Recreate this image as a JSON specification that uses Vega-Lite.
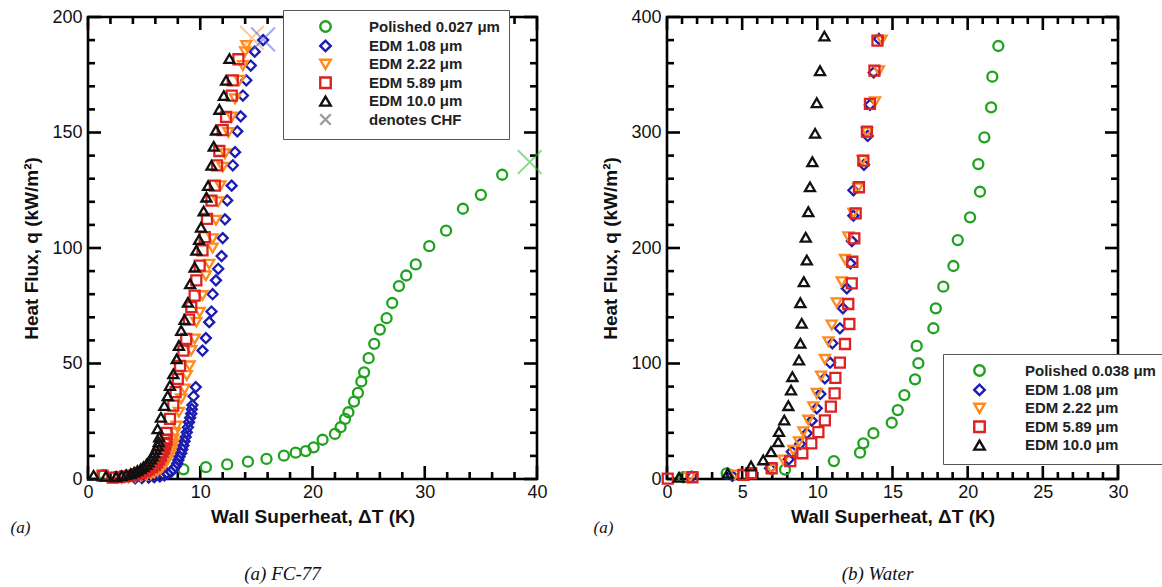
{
  "$schema": "https://vega.github.io/schema/vega-lite/v6.json",
  "padding": {"left": 8, "top": 6, "right": 0, "bottom": 0},
  "background": "white",
  "spacing": 42,
  "config": {
    "view": {"stroke": "#000", "strokeWidth": 2.6},
    "axis": {
      "grid": false,
      "domain": false,
      "ticks": false,
      "tickSize": 0,
      "labelFont": "Liberation Sans, sans-serif",
      "labelFontSize": 18,
      "labelColor": "#111",
      "labelFlush": false,
      "labelOverlap": false,
      "titleFont": "Liberation Sans, sans-serif",
      "titleFontSize": 19,
      "titleFontWeight": "bold",
      "titleColor": "#111"
    },
    "legend": {
      "labelFont": "Liberation Sans, sans-serif",
      "labelFontSize": 15,
      "labelFontWeight": "bold",
      "labelColor": "#222",
      "symbolStrokeWidth": 2.4,
      "symbolSize": 110,
      "fillColor": "white",
      "strokeColor": "#555",
      "padding": 9,
      "rowPadding": -1.6
    }
  },
  "resolve": {
    "scale": {"color": "independent", "shape": "independent", "stroke": "independent", "x": "independent", "y": "independent"},
    "legend": {"color": "independent", "shape": "independent"}
  },
  "hconcat": [
    {
      "width": 449,
      "height": 462,
      "title": {"text": "(a) FC-77", "orient": "bottom", "anchor": "middle", "dx": -30, "offset": 30, "font": "Liberation Serif", "fontStyle": "italic", "fontWeight": "normal", "fontSize": 19, "color": "#111"},
      "data": {"values": [
        {"k": "pt", "s": "Polished 0.027 μm", "x": 1.4, "y": 1.8},
        {"k": "pt", "s": "Polished 0.027 μm", "x": 8.5, "y": 4.2},
        {"k": "pt", "s": "Polished 0.027 μm", "x": 10.5, "y": 5.1},
        {"k": "pt", "s": "Polished 0.027 μm", "x": 12.4, "y": 6.3},
        {"k": "pt", "s": "Polished 0.027 μm", "x": 14.25, "y": 7.5},
        {"k": "pt", "s": "Polished 0.027 μm", "x": 15.9, "y": 8.7},
        {"k": "pt", "s": "Polished 0.027 μm", "x": 17.45, "y": 10.1},
        {"k": "pt", "s": "Polished 0.027 μm", "x": 18.5, "y": 11.4},
        {"k": "pt", "s": "Polished 0.027 μm", "x": 19.4, "y": 12.1},
        {"k": "pt", "s": "Polished 0.027 μm", "x": 20.1, "y": 13.7},
        {"k": "pt", "s": "Polished 0.027 μm", "x": 20.9, "y": 17.0},
        {"k": "pt", "s": "Polished 0.027 μm", "x": 22.0, "y": 19.5},
        {"k": "pt", "s": "Polished 0.027 μm", "x": 22.5, "y": 22.4},
        {"k": "pt", "s": "Polished 0.027 μm", "x": 22.9, "y": 26.0},
        {"k": "pt", "s": "Polished 0.027 μm", "x": 23.2, "y": 28.9},
        {"k": "pt", "s": "Polished 0.027 μm", "x": 23.7, "y": 33.5},
        {"k": "pt", "s": "Polished 0.027 μm", "x": 24.05, "y": 37.3},
        {"k": "pt", "s": "Polished 0.027 μm", "x": 24.35, "y": 42.2},
        {"k": "pt", "s": "Polished 0.027 μm", "x": 24.6, "y": 46.2},
        {"k": "pt", "s": "Polished 0.027 μm", "x": 25.0, "y": 52.3},
        {"k": "pt", "s": "Polished 0.027 μm", "x": 25.5, "y": 58.5},
        {"k": "pt", "s": "Polished 0.027 μm", "x": 26.0, "y": 64.7},
        {"k": "pt", "s": "Polished 0.027 μm", "x": 26.6, "y": 69.6},
        {"k": "pt", "s": "Polished 0.027 μm", "x": 27.1, "y": 76.2},
        {"k": "pt", "s": "Polished 0.027 μm", "x": 27.7, "y": 83.5},
        {"k": "pt", "s": "Polished 0.027 μm", "x": 28.35, "y": 88.1},
        {"k": "pt", "s": "Polished 0.027 μm", "x": 29.2, "y": 92.9},
        {"k": "pt", "s": "Polished 0.027 μm", "x": 30.4, "y": 100.8},
        {"k": "pt", "s": "Polished 0.027 μm", "x": 31.9, "y": 107.5},
        {"k": "pt", "s": "Polished 0.027 μm", "x": 33.4, "y": 117.0},
        {"k": "pt", "s": "Polished 0.027 μm", "x": 35.0, "y": 123.0},
        {"k": "pt", "s": "Polished 0.027 μm", "x": 36.9, "y": 131.7},
        {"k": "pt", "s": "EDM 1.08 μm", "x": 4.2, "y": 0.3},
        {"k": "pt", "s": "EDM 1.08 μm", "x": 4.8, "y": 0.4},
        {"k": "pt", "s": "EDM 1.08 μm", "x": 5.4, "y": 0.6},
        {"k": "pt", "s": "EDM 1.08 μm", "x": 5.9, "y": 0.8},
        {"k": "pt", "s": "EDM 1.08 μm", "x": 6.4, "y": 1.1},
        {"k": "pt", "s": "EDM 1.08 μm", "x": 6.8, "y": 1.6},
        {"k": "pt", "s": "EDM 1.08 μm", "x": 7.1, "y": 2.3},
        {"k": "pt", "s": "EDM 1.08 μm", "x": 7.4, "y": 3.1},
        {"k": "pt", "s": "EDM 1.08 μm", "x": 7.6, "y": 4.2},
        {"k": "pt", "s": "EDM 1.08 μm", "x": 7.8, "y": 5.4},
        {"k": "pt", "s": "EDM 1.08 μm", "x": 7.95, "y": 6.8},
        {"k": "pt", "s": "EDM 1.08 μm", "x": 8.05, "y": 8.2},
        {"k": "pt", "s": "EDM 1.08 μm", "x": 8.15, "y": 9.6},
        {"k": "pt", "s": "EDM 1.08 μm", "x": 8.3, "y": 11.2},
        {"k": "pt", "s": "EDM 1.08 μm", "x": 8.4, "y": 12.8},
        {"k": "pt", "s": "EDM 1.08 μm", "x": 8.5, "y": 14.5},
        {"k": "pt", "s": "EDM 1.08 μm", "x": 8.6, "y": 16.3},
        {"k": "pt", "s": "EDM 1.08 μm", "x": 8.7, "y": 18.2},
        {"k": "pt", "s": "EDM 1.08 μm", "x": 8.8, "y": 20.2},
        {"k": "pt", "s": "EDM 1.08 μm", "x": 8.9, "y": 22.4},
        {"k": "pt", "s": "EDM 1.08 μm", "x": 9.0, "y": 24.6},
        {"k": "pt", "s": "EDM 1.08 μm", "x": 9.1, "y": 26.5},
        {"k": "pt", "s": "EDM 1.08 μm", "x": 9.2, "y": 28.3},
        {"k": "pt", "s": "EDM 1.08 μm", "x": 9.25, "y": 30.2},
        {"k": "pt", "s": "EDM 1.08 μm", "x": 9.3, "y": 32.0},
        {"k": "pt", "s": "EDM 1.08 μm", "x": 9.4, "y": 35.8},
        {"k": "pt", "s": "EDM 1.08 μm", "x": 9.6, "y": 39.8},
        {"k": "pt", "s": "EDM 1.08 μm", "x": 10.2, "y": 55.6},
        {"k": "pt", "s": "EDM 1.08 μm", "x": 10.5, "y": 61.0},
        {"k": "pt", "s": "EDM 1.08 μm", "x": 10.8, "y": 67.9},
        {"k": "pt", "s": "EDM 1.08 μm", "x": 11.0, "y": 72.5},
        {"k": "pt", "s": "EDM 1.08 μm", "x": 11.1, "y": 80.0},
        {"k": "pt", "s": "EDM 1.08 μm", "x": 11.4, "y": 86.0},
        {"k": "pt", "s": "EDM 1.08 μm", "x": 11.6, "y": 91.0},
        {"k": "pt", "s": "EDM 1.08 μm", "x": 11.9, "y": 96.5},
        {"k": "pt", "s": "EDM 1.08 μm", "x": 12.0, "y": 104.3},
        {"k": "pt", "s": "EDM 1.08 μm", "x": 12.2, "y": 112.4},
        {"k": "pt", "s": "EDM 1.08 μm", "x": 12.4, "y": 120.6},
        {"k": "pt", "s": "EDM 1.08 μm", "x": 12.8, "y": 127.0},
        {"k": "pt", "s": "EDM 1.08 μm", "x": 12.9, "y": 135.8},
        {"k": "pt", "s": "EDM 1.08 μm", "x": 13.1, "y": 141.5},
        {"k": "pt", "s": "EDM 1.08 μm", "x": 13.3, "y": 150.5},
        {"k": "pt", "s": "EDM 1.08 μm", "x": 13.6, "y": 157.0},
        {"k": "pt", "s": "EDM 1.08 μm", "x": 13.8, "y": 166.0},
        {"k": "pt", "s": "EDM 1.08 μm", "x": 14.1, "y": 172.6},
        {"k": "pt", "s": "EDM 1.08 μm", "x": 14.5, "y": 179.0},
        {"k": "pt", "s": "EDM 1.08 μm", "x": 14.85, "y": 185.0},
        {"k": "pt", "s": "EDM 1.08 μm", "x": 15.6, "y": 190.0},
        {"k": "pt", "s": "EDM 2.22 μm", "x": 3.0, "y": 0.3},
        {"k": "pt", "s": "EDM 2.22 μm", "x": 3.6, "y": 0.5},
        {"k": "pt", "s": "EDM 2.22 μm", "x": 4.2, "y": 0.8},
        {"k": "pt", "s": "EDM 2.22 μm", "x": 4.7, "y": 1.1},
        {"k": "pt", "s": "EDM 2.22 μm", "x": 5.2, "y": 1.5},
        {"k": "pt", "s": "EDM 2.22 μm", "x": 5.6, "y": 2.0},
        {"k": "pt", "s": "EDM 2.22 μm", "x": 5.9, "y": 2.7},
        {"k": "pt", "s": "EDM 2.22 μm", "x": 6.2, "y": 3.4},
        {"k": "pt", "s": "EDM 2.22 μm", "x": 6.45, "y": 4.3},
        {"k": "pt", "s": "EDM 2.22 μm", "x": 6.65, "y": 5.3},
        {"k": "pt", "s": "EDM 2.22 μm", "x": 6.85, "y": 6.4},
        {"k": "pt", "s": "EDM 2.22 μm", "x": 7.0, "y": 7.6},
        {"k": "pt", "s": "EDM 2.22 μm", "x": 7.15, "y": 8.9},
        {"k": "pt", "s": "EDM 2.22 μm", "x": 7.3, "y": 10.3},
        {"k": "pt", "s": "EDM 2.22 μm", "x": 7.4, "y": 11.8},
        {"k": "pt", "s": "EDM 2.22 μm", "x": 7.5, "y": 13.4},
        {"k": "pt", "s": "EDM 2.22 μm", "x": 7.6, "y": 15.3},
        {"k": "pt", "s": "EDM 2.22 μm", "x": 7.6, "y": 17.3},
        {"k": "pt", "s": "EDM 2.22 μm", "x": 7.75, "y": 20.0},
        {"k": "pt", "s": "EDM 2.22 μm", "x": 7.9, "y": 23.0},
        {"k": "pt", "s": "EDM 2.22 μm", "x": 8.1, "y": 28.9},
        {"k": "pt", "s": "EDM 2.22 μm", "x": 8.3, "y": 34.7},
        {"k": "pt", "s": "EDM 2.22 μm", "x": 8.6, "y": 39.0},
        {"k": "pt", "s": "EDM 2.22 μm", "x": 8.8, "y": 44.8},
        {"k": "pt", "s": "EDM 2.22 μm", "x": 9.05, "y": 49.0},
        {"k": "pt", "s": "EDM 2.22 μm", "x": 9.2, "y": 55.6},
        {"k": "pt", "s": "EDM 2.22 μm", "x": 9.5, "y": 60.6},
        {"k": "pt", "s": "EDM 2.22 μm", "x": 9.65, "y": 67.9},
        {"k": "pt", "s": "EDM 2.22 μm", "x": 9.95, "y": 72.2},
        {"k": "pt", "s": "EDM 2.22 μm", "x": 10.2, "y": 79.4},
        {"k": "pt", "s": "EDM 2.22 μm", "x": 10.5, "y": 88.0},
        {"k": "pt", "s": "EDM 2.22 μm", "x": 10.8, "y": 93.0},
        {"k": "pt", "s": "EDM 2.22 μm", "x": 11.1, "y": 100.0},
        {"k": "pt", "s": "EDM 2.22 μm", "x": 11.1, "y": 104.0},
        {"k": "pt", "s": "EDM 2.22 μm", "x": 11.4, "y": 112.0},
        {"k": "pt", "s": "EDM 2.22 μm", "x": 11.6, "y": 120.0},
        {"k": "pt", "s": "EDM 2.22 μm", "x": 11.8, "y": 127.0},
        {"k": "pt", "s": "EDM 2.22 μm", "x": 12.0, "y": 135.0},
        {"k": "pt", "s": "EDM 2.22 μm", "x": 12.2, "y": 140.8},
        {"k": "pt", "s": "EDM 2.22 μm", "x": 12.5, "y": 150.0},
        {"k": "pt", "s": "EDM 2.22 μm", "x": 12.8, "y": 156.7},
        {"k": "pt", "s": "EDM 2.22 μm", "x": 13.1, "y": 164.6},
        {"k": "pt", "s": "EDM 2.22 μm", "x": 13.5, "y": 172.6},
        {"k": "pt", "s": "EDM 2.22 μm", "x": 13.8, "y": 179.0},
        {"k": "pt", "s": "EDM 2.22 μm", "x": 14.0, "y": 185.0},
        {"k": "pt", "s": "EDM 2.22 μm", "x": 14.1, "y": 187.7},
        {"k": "pt", "s": "EDM 5.89 μm", "x": 1.3, "y": 1.4},
        {"k": "pt", "s": "EDM 5.89 μm", "x": 2.2, "y": 0.6},
        {"k": "pt", "s": "EDM 5.89 μm", "x": 2.8, "y": 0.8},
        {"k": "pt", "s": "EDM 5.89 μm", "x": 3.3, "y": 1.1},
        {"k": "pt", "s": "EDM 5.89 μm", "x": 3.8, "y": 1.5},
        {"k": "pt", "s": "EDM 5.89 μm", "x": 4.3, "y": 2.0},
        {"k": "pt", "s": "EDM 5.89 μm", "x": 4.7, "y": 2.6},
        {"k": "pt", "s": "EDM 5.89 μm", "x": 5.1, "y": 3.3},
        {"k": "pt", "s": "EDM 5.89 μm", "x": 5.4, "y": 4.1},
        {"k": "pt", "s": "EDM 5.89 μm", "x": 5.7, "y": 5.0},
        {"k": "pt", "s": "EDM 5.89 μm", "x": 5.95, "y": 6.0},
        {"k": "pt", "s": "EDM 5.89 μm", "x": 6.15, "y": 7.2},
        {"k": "pt", "s": "EDM 5.89 μm", "x": 6.35, "y": 8.5},
        {"k": "pt", "s": "EDM 5.89 μm", "x": 6.5, "y": 10.0},
        {"k": "pt", "s": "EDM 5.89 μm", "x": 6.65, "y": 11.6},
        {"k": "pt", "s": "EDM 5.89 μm", "x": 6.8, "y": 13.3},
        {"k": "pt", "s": "EDM 5.89 μm", "x": 6.9, "y": 15.1},
        {"k": "pt", "s": "EDM 5.89 μm", "x": 7.0, "y": 17.0},
        {"k": "pt", "s": "EDM 5.89 μm", "x": 7.0, "y": 20.0},
        {"k": "pt", "s": "EDM 5.89 μm", "x": 7.3, "y": 26.0},
        {"k": "pt", "s": "EDM 5.89 μm", "x": 7.6, "y": 31.8},
        {"k": "pt", "s": "EDM 5.89 μm", "x": 7.8, "y": 37.6},
        {"k": "pt", "s": "EDM 5.89 μm", "x": 8.0, "y": 43.3},
        {"k": "pt", "s": "EDM 5.89 μm", "x": 8.2, "y": 49.0},
        {"k": "pt", "s": "EDM 5.89 μm", "x": 8.5, "y": 55.6},
        {"k": "pt", "s": "EDM 5.89 μm", "x": 8.75, "y": 60.6},
        {"k": "pt", "s": "EDM 5.89 μm", "x": 9.0, "y": 69.0},
        {"k": "pt", "s": "EDM 5.89 μm", "x": 9.2, "y": 74.4},
        {"k": "pt", "s": "EDM 5.89 μm", "x": 9.5, "y": 79.4},
        {"k": "pt", "s": "EDM 5.89 μm", "x": 9.65, "y": 86.0},
        {"k": "pt", "s": "EDM 5.89 μm", "x": 9.95, "y": 92.4},
        {"k": "pt", "s": "EDM 5.89 μm", "x": 10.2, "y": 99.0},
        {"k": "pt", "s": "EDM 5.89 μm", "x": 10.4, "y": 104.7},
        {"k": "pt", "s": "EDM 5.89 μm", "x": 10.6, "y": 112.6},
        {"k": "pt", "s": "EDM 5.89 μm", "x": 11.0, "y": 120.5},
        {"k": "pt", "s": "EDM 5.89 μm", "x": 11.3, "y": 127.0},
        {"k": "pt", "s": "EDM 5.89 μm", "x": 11.5, "y": 135.8},
        {"k": "pt", "s": "EDM 5.89 μm", "x": 11.7, "y": 142.0},
        {"k": "pt", "s": "EDM 5.89 μm", "x": 12.0, "y": 151.0},
        {"k": "pt", "s": "EDM 5.89 μm", "x": 12.3, "y": 156.7},
        {"k": "pt", "s": "EDM 5.89 μm", "x": 12.8, "y": 166.0},
        {"k": "pt", "s": "EDM 5.89 μm", "x": 12.9, "y": 172.6},
        {"k": "pt", "s": "EDM 5.89 μm", "x": 13.4, "y": 181.7},
        {"k": "pt", "s": "EDM 10.0 μm", "x": 0.5, "y": 1.6},
        {"k": "pt", "s": "EDM 10.0 μm", "x": 1.6, "y": 1.2},
        {"k": "pt", "s": "EDM 10.0 μm", "x": 2.5, "y": 1.0},
        {"k": "pt", "s": "EDM 10.0 μm", "x": 3.0, "y": 1.4},
        {"k": "pt", "s": "EDM 10.0 μm", "x": 3.4, "y": 1.8},
        {"k": "pt", "s": "EDM 10.0 μm", "x": 3.8, "y": 2.3},
        {"k": "pt", "s": "EDM 10.0 μm", "x": 4.1, "y": 2.9},
        {"k": "pt", "s": "EDM 10.0 μm", "x": 4.4, "y": 3.6},
        {"k": "pt", "s": "EDM 10.0 μm", "x": 4.7, "y": 4.4},
        {"k": "pt", "s": "EDM 10.0 μm", "x": 4.95, "y": 5.3},
        {"k": "pt", "s": "EDM 10.0 μm", "x": 5.2, "y": 6.3},
        {"k": "pt", "s": "EDM 10.0 μm", "x": 5.4, "y": 7.4},
        {"k": "pt", "s": "EDM 10.0 μm", "x": 5.6, "y": 8.6},
        {"k": "pt", "s": "EDM 10.0 μm", "x": 5.75, "y": 9.9},
        {"k": "pt", "s": "EDM 10.0 μm", "x": 5.9, "y": 11.3},
        {"k": "pt", "s": "EDM 10.0 μm", "x": 6.05, "y": 12.8},
        {"k": "pt", "s": "EDM 10.0 μm", "x": 6.2, "y": 14.4},
        {"k": "pt", "s": "EDM 10.0 μm", "x": 6.3, "y": 16.1},
        {"k": "pt", "s": "EDM 10.0 μm", "x": 6.35, "y": 18.2},
        {"k": "pt", "s": "EDM 10.0 μm", "x": 6.2, "y": 21.7},
        {"k": "pt", "s": "EDM 10.0 μm", "x": 6.5, "y": 26.7},
        {"k": "pt", "s": "EDM 10.0 μm", "x": 6.8, "y": 31.8},
        {"k": "pt", "s": "EDM 10.0 μm", "x": 7.1, "y": 36.0},
        {"k": "pt", "s": "EDM 10.0 μm", "x": 7.3, "y": 40.5},
        {"k": "pt", "s": "EDM 10.0 μm", "x": 7.6, "y": 45.5},
        {"k": "pt", "s": "EDM 10.0 μm", "x": 7.9, "y": 52.0},
        {"k": "pt", "s": "EDM 10.0 μm", "x": 8.1, "y": 57.8},
        {"k": "pt", "s": "EDM 10.0 μm", "x": 8.3, "y": 64.3},
        {"k": "pt", "s": "EDM 10.0 μm", "x": 8.6, "y": 69.0},
        {"k": "pt", "s": "EDM 10.0 μm", "x": 8.9, "y": 76.5},
        {"k": "pt", "s": "EDM 10.0 μm", "x": 9.1, "y": 84.5},
        {"k": "pt", "s": "EDM 10.0 μm", "x": 9.5, "y": 91.7},
        {"k": "pt", "s": "EDM 10.0 μm", "x": 9.65, "y": 99.0},
        {"k": "pt", "s": "EDM 10.0 μm", "x": 9.9, "y": 103.7},
        {"k": "pt", "s": "EDM 10.0 μm", "x": 10.07, "y": 109.0},
        {"k": "pt", "s": "EDM 10.0 μm", "x": 10.3, "y": 116.0},
        {"k": "pt", "s": "EDM 10.0 μm", "x": 10.55, "y": 122.0},
        {"k": "pt", "s": "EDM 10.0 μm", "x": 10.7, "y": 127.0},
        {"k": "pt", "s": "EDM 10.0 μm", "x": 11.0, "y": 135.8},
        {"k": "pt", "s": "EDM 10.0 μm", "x": 11.2, "y": 144.0},
        {"k": "pt", "s": "EDM 10.0 μm", "x": 11.4, "y": 151.0},
        {"k": "pt", "s": "EDM 10.0 μm", "x": 11.7, "y": 160.0},
        {"k": "pt", "s": "EDM 10.0 μm", "x": 12.1, "y": 166.0},
        {"k": "pt", "s": "EDM 10.0 μm", "x": 12.3, "y": 172.6},
        {"k": "pt", "s": "EDM 10.0 μm", "x": 12.6, "y": 182.0},
        {"k": "chf", "s": "Polished 0.027 μm", "x": 39.35, "y": 137.2},
        {"k": "chf", "s": "EDM 2.22 μm", "x": 14.6, "y": 191.0},
        {"k": "chf", "s": "EDM 1.08 μm", "x": 15.6, "y": 190.3},
        {"k": "b", "m": 1, "x": 0, "y": 0}, {"k": "b", "m": 0, "x": 2, "y": 0}, {"k": "b", "m": 0, "x": 4, "y": 0}, {"k": "b", "m": 0, "x": 6, "y": 0}, {"k": "b", "m": 0, "x": 8, "y": 0},
        {"k": "b", "m": 1, "x": 10, "y": 0}, {"k": "b", "m": 0, "x": 12, "y": 0}, {"k": "b", "m": 0, "x": 14, "y": 0}, {"k": "b", "m": 0, "x": 16, "y": 0}, {"k": "b", "m": 0, "x": 18, "y": 0},
        {"k": "b", "m": 1, "x": 20, "y": 0}, {"k": "b", "m": 0, "x": 22, "y": 0}, {"k": "b", "m": 0, "x": 24, "y": 0}, {"k": "b", "m": 0, "x": 26, "y": 0}, {"k": "b", "m": 0, "x": 28, "y": 0},
        {"k": "b", "m": 1, "x": 30, "y": 0}, {"k": "b", "m": 0, "x": 32, "y": 0}, {"k": "b", "m": 0, "x": 34, "y": 0}, {"k": "b", "m": 0, "x": 36, "y": 0}, {"k": "b", "m": 0, "x": 38, "y": 0},
        {"k": "b", "m": 1, "x": 40, "y": 0},
        {"k": "t", "m": 1, "x": 0, "y": 200}, {"k": "t", "m": 0, "x": 2, "y": 200}, {"k": "t", "m": 0, "x": 4, "y": 200}, {"k": "t", "m": 0, "x": 6, "y": 200}, {"k": "t", "m": 0, "x": 8, "y": 200},
        {"k": "t", "m": 1, "x": 10, "y": 200}, {"k": "t", "m": 0, "x": 12, "y": 200}, {"k": "t", "m": 0, "x": 14, "y": 200}, {"k": "t", "m": 0, "x": 16, "y": 200}, {"k": "t", "m": 0, "x": 18, "y": 200},
        {"k": "t", "m": 1, "x": 20, "y": 200}, {"k": "t", "m": 0, "x": 22, "y": 200}, {"k": "t", "m": 0, "x": 24, "y": 200}, {"k": "t", "m": 0, "x": 26, "y": 200}, {"k": "t", "m": 0, "x": 28, "y": 200},
        {"k": "t", "m": 1, "x": 30, "y": 200}, {"k": "t", "m": 0, "x": 32, "y": 200}, {"k": "t", "m": 0, "x": 34, "y": 200}, {"k": "t", "m": 0, "x": 36, "y": 200}, {"k": "t", "m": 0, "x": 38, "y": 200},
        {"k": "t", "m": 1, "x": 40, "y": 200},
        {"k": "l", "m": 1, "x": 0, "y": 0}, {"k": "l", "m": 0, "x": 0, "y": 10}, {"k": "l", "m": 0, "x": 0, "y": 20}, {"k": "l", "m": 0, "x": 0, "y": 30}, {"k": "l", "m": 0, "x": 0, "y": 40},
        {"k": "l", "m": 1, "x": 0, "y": 50}, {"k": "l", "m": 0, "x": 0, "y": 60}, {"k": "l", "m": 0, "x": 0, "y": 70}, {"k": "l", "m": 0, "x": 0, "y": 80}, {"k": "l", "m": 0, "x": 0, "y": 90},
        {"k": "l", "m": 1, "x": 0, "y": 100}, {"k": "l", "m": 0, "x": 0, "y": 110}, {"k": "l", "m": 0, "x": 0, "y": 120}, {"k": "l", "m": 0, "x": 0, "y": 130}, {"k": "l", "m": 0, "x": 0, "y": 140},
        {"k": "l", "m": 1, "x": 0, "y": 150}, {"k": "l", "m": 0, "x": 0, "y": 160}, {"k": "l", "m": 0, "x": 0, "y": 170}, {"k": "l", "m": 0, "x": 0, "y": 180}, {"k": "l", "m": 0, "x": 0, "y": 190},
        {"k": "l", "m": 1, "x": 0, "y": 200},
        {"k": "r", "m": 1, "x": 40, "y": 0}, {"k": "r", "m": 0, "x": 40, "y": 10}, {"k": "r", "m": 0, "x": 40, "y": 20}, {"k": "r", "m": 0, "x": 40, "y": 30}, {"k": "r", "m": 0, "x": 40, "y": 40},
        {"k": "r", "m": 1, "x": 40, "y": 50}, {"k": "r", "m": 0, "x": 40, "y": 60}, {"k": "r", "m": 0, "x": 40, "y": 70}, {"k": "r", "m": 0, "x": 40, "y": 80}, {"k": "r", "m": 0, "x": 40, "y": 90},
        {"k": "r", "m": 1, "x": 40, "y": 100}, {"k": "r", "m": 0, "x": 40, "y": 110}, {"k": "r", "m": 0, "x": 40, "y": 120}, {"k": "r", "m": 0, "x": 40, "y": 130}, {"k": "r", "m": 0, "x": 40, "y": 140},
        {"k": "r", "m": 1, "x": 40, "y": 150}, {"k": "r", "m": 0, "x": 40, "y": 160}, {"k": "r", "m": 0, "x": 40, "y": 170}, {"k": "r", "m": 0, "x": 40, "y": 180}, {"k": "r", "m": 0, "x": 40, "y": 190},
        {"k": "r", "m": 1, "x": 40, "y": 200}
      ]},
      "layer": [
        {
          "transform": [{"filter": "datum.k === 'b'"}],
          "mark": {"type": "point", "shape": "M0,0L0,-1", "filled": false, "stroke": "#000", "strokeWidth": 2.6, "opacity": 1},
          "encoding": {
            "x": {"field": "x", "type": "quantitative", "scale": {"domain": [0, 40], "nice": false, "zero": false}, "axis": null},
            "y": {"field": "y", "type": "quantitative", "scale": {"domain": [0, 200], "nice": false, "zero": false}, "axis": null},
            "size": {"condition": {"test": "datum.m === 1", "value": 676}, "value": 196}
          }
        },
        {
          "transform": [{"filter": "datum.k === 't'"}],
          "mark": {"type": "point", "shape": "M0,0L0,1", "filled": false, "stroke": "#000", "strokeWidth": 2.6, "opacity": 1},
          "encoding": {
            "x": {"field": "x", "type": "quantitative", "scale": {"domain": [0, 40], "nice": false, "zero": false}, "axis": null},
            "y": {"field": "y", "type": "quantitative", "scale": {"domain": [0, 200], "nice": false, "zero": false}, "axis": null},
            "size": {"condition": {"test": "datum.m === 1", "value": 676}, "value": 196}
          }
        },
        {
          "transform": [{"filter": "datum.k === 'l'"}],
          "mark": {"type": "point", "shape": "M0,0L1,0", "filled": false, "stroke": "#000", "strokeWidth": 2.6, "opacity": 1},
          "encoding": {
            "x": {"field": "x", "type": "quantitative", "scale": {"domain": [0, 40], "nice": false, "zero": false}, "axis": null},
            "y": {"field": "y", "type": "quantitative", "scale": {"domain": [0, 200], "nice": false, "zero": false}, "axis": null},
            "size": {"condition": {"test": "datum.m === 1", "value": 676}, "value": 196}
          }
        },
        {
          "transform": [{"filter": "datum.k === 'r'"}],
          "mark": {"type": "point", "shape": "M0,0L-1,0", "filled": false, "stroke": "#000", "strokeWidth": 2.6, "opacity": 1},
          "encoding": {
            "x": {"field": "x", "type": "quantitative", "scale": {"domain": [0, 40], "nice": false, "zero": false}, "axis": null},
            "y": {"field": "y", "type": "quantitative", "scale": {"domain": [0, 200], "nice": false, "zero": false}, "axis": null},
            "size": {"condition": {"test": "datum.m === 1", "value": 676}, "value": 196}
          }
        },
        {
          "transform": [{"filter": "datum.k === 'pt'"}],
          "mark": {"type": "point", "filled": false, "strokeWidth": 2.3, "size": 100, "opacity": 1},
          "encoding": {
            "x": {
              "field": "x", "type": "quantitative",
              "scale": {"domain": [0, 40], "nice": false, "zero": false},
              "axis": {
                "orient": "bottom",
                "title": "Wall Superheat, ΔT (K)",
                "values": [0, 10, 20, 30, 40],
                "labelPadding": 4,
                "titlePadding": 6
              }
            },
            "y": {
              "field": "y", "type": "quantitative",
              "scale": {"domain": [0, 200], "nice": false, "zero": false},
              "axis": {
                "orient": "left",
                "title": "Heat Flux, q (kW/m²)",
                "values": [0, 50, 100, 150, 200],
                "labelPadding": 6,
                "titlePadding": 10
              }
            },
            "color": {
              "field": "s", "type": "nominal",
              "scale": {
                "domain": ["Polished 0.027 μm", "EDM 1.08 μm", "EDM 2.22 μm", "EDM 5.89 μm", "EDM 10.0 μm", "denotes CHF"],
                "range": ["#1fa21f", "#1c1cb0", "#ff8a1e", "#dc2222", "#111111", "#9a9a9a"]
              },
              "legend": {"orient": "none", "legendX": 195, "legendY": -7, "title": null, "symbolOffset": 26, "labelOffset": 36}
            },
            "shape": {
              "field": "s", "type": "nominal",
              "scale": {
                "domain": ["Polished 0.027 μm", "EDM 1.08 μm", "EDM 2.22 μm", "EDM 5.89 μm", "EDM 10.0 μm", "denotes CHF"],
                "range": ["circle", "diamond", "triangle-down", "square", "triangle-up", "M-1,-1L1,1M-1,1L1,-1"]
              },
              "legend": {"orient": "none", "legendX": 195, "legendY": -7, "title": null, "symbolOffset": 26, "labelOffset": 36}
            }
          }
        },
        {
          "transform": [{"filter": "datum.k === 'chf'"}],
          "mark": {"type": "point", "filled": false, "strokeWidth": 2, "size": 560, "opacity": 0.55, "shape": "M-1,-1L1,1M-1,1L1,-1"},
          "encoding": {
            "x": {
              "field": "x", "type": "quantitative",
              "scale": {"domain": [0, 40], "nice": false, "zero": false},
              "axis": {
                "orient": "top",
                "title": "(a)",
                "titleFont": "Liberation Serif",
                "titleFontStyle": "italic",
                "titleFontWeight": "normal",
                "titleFontSize": 17,
                "titleAngle": 0,
                "titleAlign": "left",
                "titleBaseline": "middle",
                "titleX": -78,
                "titleY": 510,
                "values": [0, 40],
                "labels": false
              }
            },
            "y": {
              "field": "y", "type": "quantitative",
              "scale": {"domain": [0, 200], "nice": false, "zero": false},
              "axis": null
            },
            "stroke": {
              "field": "s", "type": "nominal",
              "scale": {"domain": ["Polished 0.027 μm", "EDM 1.08 μm", "EDM 2.22 μm"], "range": ["#2fbf2f", "#5a66d6", "#ff9a40"]},
              "legend": null
            }
          }
        }
      ],
      "resolve": {"axis": {"x": "independent", "y": "independent"}}
    },
    {
      "width": 451,
      "height": 462,
      "title": {"text": "(b) Water", "orient": "bottom", "anchor": "middle", "dx": -15, "offset": 30, "font": "Liberation Serif", "fontStyle": "italic", "fontWeight": "normal", "fontSize": 19, "color": "#111"},
      "data": {"values": [
        {"k": "pt", "s": "Polished 0.038 μm", "x": 1.09, "y": 1.5},
        {"k": "pt", "s": "Polished 0.038 μm", "x": 3.97, "y": 4.9},
        {"k": "pt", "s": "Polished 0.038 μm", "x": 7.85, "y": 8.2},
        {"k": "pt", "s": "Polished 0.038 μm", "x": 11.1, "y": 15.5},
        {"k": "pt", "s": "Polished 0.038 μm", "x": 12.84, "y": 22.8},
        {"k": "pt", "s": "Polished 0.038 μm", "x": 13.06, "y": 30.9},
        {"k": "pt", "s": "Polished 0.038 μm", "x": 13.73, "y": 39.6},
        {"k": "pt", "s": "Polished 0.038 μm", "x": 14.95, "y": 48.7},
        {"k": "pt", "s": "Polished 0.038 μm", "x": 15.35, "y": 59.7},
        {"k": "pt", "s": "Polished 0.038 μm", "x": 15.79, "y": 72.7},
        {"k": "pt", "s": "Polished 0.038 μm", "x": 16.5, "y": 86.3},
        {"k": "pt", "s": "Polished 0.038 μm", "x": 16.72, "y": 100.2},
        {"k": "pt", "s": "Polished 0.038 μm", "x": 16.61, "y": 115.2},
        {"k": "pt", "s": "Polished 0.038 μm", "x": 17.72, "y": 130.5},
        {"k": "pt", "s": "Polished 0.038 μm", "x": 17.88, "y": 147.8},
        {"k": "pt", "s": "Polished 0.038 μm", "x": 18.38, "y": 166.5},
        {"k": "pt", "s": "Polished 0.038 μm", "x": 19.05, "y": 184.4},
        {"k": "pt", "s": "Polished 0.038 μm", "x": 19.34, "y": 206.9},
        {"k": "pt", "s": "Polished 0.038 μm", "x": 20.16, "y": 226.6},
        {"k": "pt", "s": "Polished 0.038 μm", "x": 20.82, "y": 248.7},
        {"k": "pt", "s": "Polished 0.038 μm", "x": 20.71, "y": 272.7},
        {"k": "pt", "s": "Polished 0.038 μm", "x": 21.11, "y": 295.8},
        {"k": "pt", "s": "Polished 0.038 μm", "x": 21.56, "y": 321.8},
        {"k": "pt", "s": "Polished 0.038 μm", "x": 21.64, "y": 348.3},
        {"k": "pt", "s": "Polished 0.038 μm", "x": 22.04, "y": 374.9},
        {"k": "pt", "s": "EDM 1.08 μm", "x": 1.64, "y": 2.0},
        {"k": "pt", "s": "EDM 1.08 μm", "x": 4.35, "y": 2.6},
        {"k": "pt", "s": "EDM 1.08 μm", "x": 6.85, "y": 9.3},
        {"k": "pt", "s": "EDM 1.08 μm", "x": 8.1, "y": 17.0},
        {"k": "pt", "s": "EDM 1.08 μm", "x": 8.3, "y": 23.6},
        {"k": "pt", "s": "EDM 1.08 μm", "x": 8.85, "y": 30.3},
        {"k": "pt", "s": "EDM 1.08 μm", "x": 9.3, "y": 39.6},
        {"k": "pt", "s": "EDM 1.08 μm", "x": 9.63, "y": 50.5},
        {"k": "pt", "s": "EDM 1.08 μm", "x": 9.96, "y": 61.2},
        {"k": "pt", "s": "EDM 1.08 μm", "x": 10.2, "y": 73.6},
        {"k": "pt", "s": "EDM 1.08 μm", "x": 10.5, "y": 87.2},
        {"k": "pt", "s": "EDM 1.08 μm", "x": 10.85, "y": 100.7},
        {"k": "pt", "s": "EDM 1.08 μm", "x": 11.0, "y": 117.5},
        {"k": "pt", "s": "EDM 1.08 μm", "x": 11.5, "y": 130.5},
        {"k": "pt", "s": "EDM 1.08 μm", "x": 11.7, "y": 147.8},
        {"k": "pt", "s": "EDM 1.08 μm", "x": 11.96, "y": 165.0},
        {"k": "pt", "s": "EDM 1.08 μm", "x": 12.2, "y": 186.7},
        {"k": "pt", "s": "EDM 1.08 μm", "x": 12.3, "y": 206.0},
        {"k": "pt", "s": "EDM 1.08 μm", "x": 12.4, "y": 228.0},
        {"k": "pt", "s": "EDM 1.08 μm", "x": 12.4, "y": 250.0},
        {"k": "pt", "s": "EDM 1.08 μm", "x": 13.1, "y": 272.0},
        {"k": "pt", "s": "EDM 1.08 μm", "x": 13.35, "y": 297.0},
        {"k": "pt", "s": "EDM 1.08 μm", "x": 13.5, "y": 324.0},
        {"k": "pt", "s": "EDM 1.08 μm", "x": 13.75, "y": 352.0},
        {"k": "pt", "s": "EDM 1.08 μm", "x": 14.1, "y": 381.0},
        {"k": "pt", "s": "EDM 2.22 μm", "x": 1.53, "y": 1.5},
        {"k": "pt", "s": "EDM 2.22 μm", "x": 4.52, "y": 3.5},
        {"k": "pt", "s": "EDM 2.22 μm", "x": 6.96, "y": 8.4},
        {"k": "pt", "s": "EDM 2.22 μm", "x": 7.74, "y": 16.5},
        {"k": "pt", "s": "EDM 2.22 μm", "x": 8.4, "y": 25.0},
        {"k": "pt", "s": "EDM 2.22 μm", "x": 8.78, "y": 32.3},
        {"k": "pt", "s": "EDM 2.22 μm", "x": 9.07, "y": 41.0},
        {"k": "pt", "s": "EDM 2.22 μm", "x": 9.4, "y": 51.0},
        {"k": "pt", "s": "EDM 2.22 μm", "x": 9.73, "y": 62.6},
        {"k": "pt", "s": "EDM 2.22 μm", "x": 9.96, "y": 74.2},
        {"k": "pt", "s": "EDM 2.22 μm", "x": 10.25, "y": 89.2},
        {"k": "pt", "s": "EDM 2.22 μm", "x": 10.5, "y": 103.6},
        {"k": "pt", "s": "EDM 2.22 μm", "x": 10.74, "y": 118.9},
        {"k": "pt", "s": "EDM 2.22 μm", "x": 10.96, "y": 133.3},
        {"k": "pt", "s": "EDM 2.22 μm", "x": 11.29, "y": 152.6},
        {"k": "pt", "s": "EDM 2.22 μm", "x": 11.62, "y": 170.8},
        {"k": "pt", "s": "EDM 2.22 μm", "x": 11.84, "y": 190.2},
        {"k": "pt", "s": "EDM 2.22 μm", "x": 12.06, "y": 209.8},
        {"k": "pt", "s": "EDM 2.22 μm", "x": 12.4, "y": 230.0},
        {"k": "pt", "s": "EDM 2.22 μm", "x": 12.7, "y": 252.0},
        {"k": "pt", "s": "EDM 2.22 μm", "x": 13.0, "y": 276.0},
        {"k": "pt", "s": "EDM 2.22 μm", "x": 13.3, "y": 300.0},
        {"k": "pt", "s": "EDM 2.22 μm", "x": 13.84, "y": 326.7},
        {"k": "pt", "s": "EDM 2.22 μm", "x": 14.1, "y": 353.5},
        {"k": "pt", "s": "EDM 2.22 μm", "x": 14.28, "y": 380.0},
        {"k": "pt", "s": "EDM 5.89 μm", "x": 0.05, "y": 0.3},
        {"k": "pt", "s": "EDM 5.89 μm", "x": 1.69, "y": 1.5},
        {"k": "pt", "s": "EDM 5.89 μm", "x": 5.08, "y": 3.5},
        {"k": "pt", "s": "EDM 5.89 μm", "x": 5.6, "y": 5.0},
        {"k": "pt", "s": "EDM 5.89 μm", "x": 6.96, "y": 9.3},
        {"k": "pt", "s": "EDM 5.89 μm", "x": 8.2, "y": 15.5},
        {"k": "pt", "s": "EDM 5.89 μm", "x": 9.0, "y": 22.3},
        {"k": "pt", "s": "EDM 5.89 μm", "x": 9.6, "y": 30.9},
        {"k": "pt", "s": "EDM 5.89 μm", "x": 10.07, "y": 40.6},
        {"k": "pt", "s": "EDM 5.89 μm", "x": 10.5, "y": 50.7},
        {"k": "pt", "s": "EDM 5.89 μm", "x": 10.9, "y": 62.6},
        {"k": "pt", "s": "EDM 5.89 μm", "x": 11.15, "y": 74.2},
        {"k": "pt", "s": "EDM 5.89 μm", "x": 11.2, "y": 87.5},
        {"k": "pt", "s": "EDM 5.89 μm", "x": 11.5, "y": 100.7},
        {"k": "pt", "s": "EDM 5.89 μm", "x": 11.84, "y": 116.9},
        {"k": "pt", "s": "EDM 5.89 μm", "x": 12.13, "y": 134.2},
        {"k": "pt", "s": "EDM 5.89 μm", "x": 12.06, "y": 151.5},
        {"k": "pt", "s": "EDM 5.89 μm", "x": 12.29, "y": 169.4},
        {"k": "pt", "s": "EDM 5.89 μm", "x": 12.33, "y": 188.1},
        {"k": "pt", "s": "EDM 5.89 μm", "x": 12.46, "y": 208.4},
        {"k": "pt", "s": "EDM 5.89 μm", "x": 12.55, "y": 230.0},
        {"k": "pt", "s": "EDM 5.89 μm", "x": 12.77, "y": 252.6},
        {"k": "pt", "s": "EDM 5.89 μm", "x": 13.06, "y": 275.6},
        {"k": "pt", "s": "EDM 5.89 μm", "x": 13.3, "y": 300.7},
        {"k": "pt", "s": "EDM 5.89 μm", "x": 13.5, "y": 324.7},
        {"k": "pt", "s": "EDM 5.89 μm", "x": 13.8, "y": 353.5},
        {"k": "pt", "s": "EDM 5.89 μm", "x": 14.0, "y": 379.5},
        {"k": "pt", "s": "EDM 10.0 μm", "x": 0.8, "y": 1.5},
        {"k": "pt", "s": "EDM 10.0 μm", "x": 4.04, "y": 4.9},
        {"k": "pt", "s": "EDM 10.0 μm", "x": 5.59, "y": 11.3},
        {"k": "pt", "s": "EDM 10.0 μm", "x": 6.4, "y": 16.5},
        {"k": "pt", "s": "EDM 10.0 μm", "x": 6.92, "y": 23.6},
        {"k": "pt", "s": "EDM 10.0 μm", "x": 7.4, "y": 32.3},
        {"k": "pt", "s": "EDM 10.0 μm", "x": 7.45, "y": 41.0},
        {"k": "pt", "s": "EDM 10.0 μm", "x": 7.8, "y": 51.0},
        {"k": "pt", "s": "EDM 10.0 μm", "x": 8.07, "y": 63.5},
        {"k": "pt", "s": "EDM 10.0 μm", "x": 8.25, "y": 77.0},
        {"k": "pt", "s": "EDM 10.0 μm", "x": 8.34, "y": 88.6},
        {"k": "pt", "s": "EDM 10.0 μm", "x": 8.78, "y": 103.0},
        {"k": "pt", "s": "EDM 10.0 μm", "x": 8.87, "y": 117.5},
        {"k": "pt", "s": "EDM 10.0 μm", "x": 8.96, "y": 134.8},
        {"k": "pt", "s": "EDM 10.0 μm", "x": 8.87, "y": 152.6},
        {"k": "pt", "s": "EDM 10.0 μm", "x": 9.1, "y": 170.8},
        {"k": "pt", "s": "EDM 10.0 μm", "x": 9.3, "y": 189.6},
        {"k": "pt", "s": "EDM 10.0 μm", "x": 9.23, "y": 209.3},
        {"k": "pt", "s": "EDM 10.0 μm", "x": 9.4, "y": 231.4},
        {"k": "pt", "s": "EDM 10.0 μm", "x": 9.51, "y": 253.0},
        {"k": "pt", "s": "EDM 10.0 μm", "x": 9.67, "y": 274.7},
        {"k": "pt", "s": "EDM 10.0 μm", "x": 9.85, "y": 299.3},
        {"k": "pt", "s": "EDM 10.0 μm", "x": 9.96, "y": 325.8},
        {"k": "pt", "s": "EDM 10.0 μm", "x": 10.18, "y": 353.5},
        {"k": "pt", "s": "EDM 10.0 μm", "x": 10.47, "y": 383.5},
        {"k": "b", "m": 1, "x": 0, "y": 0}, {"k": "b", "m": 0, "x": 1, "y": 0}, {"k": "b", "m": 0, "x": 2, "y": 0}, {"k": "b", "m": 0, "x": 3, "y": 0}, {"k": "b", "m": 0, "x": 4, "y": 0},
        {"k": "b", "m": 1, "x": 5, "y": 0}, {"k": "b", "m": 0, "x": 6, "y": 0}, {"k": "b", "m": 0, "x": 7, "y": 0}, {"k": "b", "m": 0, "x": 8, "y": 0}, {"k": "b", "m": 0, "x": 9, "y": 0},
        {"k": "b", "m": 1, "x": 10, "y": 0}, {"k": "b", "m": 0, "x": 11, "y": 0}, {"k": "b", "m": 0, "x": 12, "y": 0}, {"k": "b", "m": 0, "x": 13, "y": 0}, {"k": "b", "m": 0, "x": 14, "y": 0},
        {"k": "b", "m": 1, "x": 15, "y": 0}, {"k": "b", "m": 0, "x": 16, "y": 0}, {"k": "b", "m": 0, "x": 17, "y": 0}, {"k": "b", "m": 0, "x": 18, "y": 0}, {"k": "b", "m": 0, "x": 19, "y": 0},
        {"k": "b", "m": 1, "x": 20, "y": 0}, {"k": "b", "m": 0, "x": 21, "y": 0}, {"k": "b", "m": 0, "x": 22, "y": 0}, {"k": "b", "m": 0, "x": 23, "y": 0}, {"k": "b", "m": 0, "x": 24, "y": 0},
        {"k": "b", "m": 1, "x": 25, "y": 0}, {"k": "b", "m": 0, "x": 26, "y": 0}, {"k": "b", "m": 0, "x": 27, "y": 0}, {"k": "b", "m": 0, "x": 28, "y": 0}, {"k": "b", "m": 0, "x": 29, "y": 0},
        {"k": "b", "m": 1, "x": 30, "y": 0},
        {"k": "t", "m": 1, "x": 0, "y": 400}, {"k": "t", "m": 0, "x": 1, "y": 400}, {"k": "t", "m": 0, "x": 2, "y": 400}, {"k": "t", "m": 0, "x": 3, "y": 400}, {"k": "t", "m": 0, "x": 4, "y": 400},
        {"k": "t", "m": 1, "x": 5, "y": 400}, {"k": "t", "m": 0, "x": 6, "y": 400}, {"k": "t", "m": 0, "x": 7, "y": 400}, {"k": "t", "m": 0, "x": 8, "y": 400}, {"k": "t", "m": 0, "x": 9, "y": 400},
        {"k": "t", "m": 1, "x": 10, "y": 400}, {"k": "t", "m": 0, "x": 11, "y": 400}, {"k": "t", "m": 0, "x": 12, "y": 400}, {"k": "t", "m": 0, "x": 13, "y": 400}, {"k": "t", "m": 0, "x": 14, "y": 400},
        {"k": "t", "m": 1, "x": 15, "y": 400}, {"k": "t", "m": 0, "x": 16, "y": 400}, {"k": "t", "m": 0, "x": 17, "y": 400}, {"k": "t", "m": 0, "x": 18, "y": 400}, {"k": "t", "m": 0, "x": 19, "y": 400},
        {"k": "t", "m": 1, "x": 20, "y": 400}, {"k": "t", "m": 0, "x": 21, "y": 400}, {"k": "t", "m": 0, "x": 22, "y": 400}, {"k": "t", "m": 0, "x": 23, "y": 400}, {"k": "t", "m": 0, "x": 24, "y": 400},
        {"k": "t", "m": 1, "x": 25, "y": 400}, {"k": "t", "m": 0, "x": 26, "y": 400}, {"k": "t", "m": 0, "x": 27, "y": 400}, {"k": "t", "m": 0, "x": 28, "y": 400}, {"k": "t", "m": 0, "x": 29, "y": 400},
        {"k": "t", "m": 1, "x": 30, "y": 400},
        {"k": "l", "m": 1, "x": 0, "y": 0}, {"k": "l", "m": 0, "x": 0, "y": 20}, {"k": "l", "m": 0, "x": 0, "y": 40}, {"k": "l", "m": 0, "x": 0, "y": 60}, {"k": "l", "m": 0, "x": 0, "y": 80},
        {"k": "l", "m": 1, "x": 0, "y": 100}, {"k": "l", "m": 0, "x": 0, "y": 120}, {"k": "l", "m": 0, "x": 0, "y": 140}, {"k": "l", "m": 0, "x": 0, "y": 160}, {"k": "l", "m": 0, "x": 0, "y": 180},
        {"k": "l", "m": 1, "x": 0, "y": 200}, {"k": "l", "m": 0, "x": 0, "y": 220}, {"k": "l", "m": 0, "x": 0, "y": 240}, {"k": "l", "m": 0, "x": 0, "y": 260}, {"k": "l", "m": 0, "x": 0, "y": 280},
        {"k": "l", "m": 1, "x": 0, "y": 300}, {"k": "l", "m": 0, "x": 0, "y": 320}, {"k": "l", "m": 0, "x": 0, "y": 340}, {"k": "l", "m": 0, "x": 0, "y": 360}, {"k": "l", "m": 0, "x": 0, "y": 380},
        {"k": "l", "m": 1, "x": 0, "y": 400},
        {"k": "r", "m": 1, "x": 30, "y": 0}, {"k": "r", "m": 0, "x": 30, "y": 20}, {"k": "r", "m": 0, "x": 30, "y": 40}, {"k": "r", "m": 0, "x": 30, "y": 60}, {"k": "r", "m": 0, "x": 30, "y": 80},
        {"k": "r", "m": 1, "x": 30, "y": 100}, {"k": "r", "m": 0, "x": 30, "y": 120}, {"k": "r", "m": 0, "x": 30, "y": 140}, {"k": "r", "m": 0, "x": 30, "y": 160}, {"k": "r", "m": 0, "x": 30, "y": 180},
        {"k": "r", "m": 1, "x": 30, "y": 200}, {"k": "r", "m": 0, "x": 30, "y": 220}, {"k": "r", "m": 0, "x": 30, "y": 240}, {"k": "r", "m": 0, "x": 30, "y": 260}, {"k": "r", "m": 0, "x": 30, "y": 280},
        {"k": "r", "m": 1, "x": 30, "y": 300}, {"k": "r", "m": 0, "x": 30, "y": 320}, {"k": "r", "m": 0, "x": 30, "y": 340}, {"k": "r", "m": 0, "x": 30, "y": 360}, {"k": "r", "m": 0, "x": 30, "y": 380},
        {"k": "r", "m": 1, "x": 30, "y": 400}
      ]},
      "layer": [
        {
          "transform": [{"filter": "datum.k === 'b'"}],
          "mark": {"type": "point", "shape": "M0,0L0,-1", "filled": false, "stroke": "#000", "strokeWidth": 2.6, "opacity": 1},
          "encoding": {
            "x": {"field": "x", "type": "quantitative", "scale": {"domain": [0, 30], "nice": false, "zero": false}, "axis": null},
            "y": {"field": "y", "type": "quantitative", "scale": {"domain": [0, 400], "nice": false, "zero": false}, "axis": null},
            "size": {"condition": {"test": "datum.m === 1", "value": 676}, "value": 196}
          }
        },
        {
          "transform": [{"filter": "datum.k === 't'"}],
          "mark": {"type": "point", "shape": "M0,0L0,1", "filled": false, "stroke": "#000", "strokeWidth": 2.6, "opacity": 1},
          "encoding": {
            "x": {"field": "x", "type": "quantitative", "scale": {"domain": [0, 30], "nice": false, "zero": false}, "axis": null},
            "y": {"field": "y", "type": "quantitative", "scale": {"domain": [0, 400], "nice": false, "zero": false}, "axis": null},
            "size": {"condition": {"test": "datum.m === 1", "value": 676}, "value": 196}
          }
        },
        {
          "transform": [{"filter": "datum.k === 'l'"}],
          "mark": {"type": "point", "shape": "M0,0L1,0", "filled": false, "stroke": "#000", "strokeWidth": 2.6, "opacity": 1},
          "encoding": {
            "x": {"field": "x", "type": "quantitative", "scale": {"domain": [0, 30], "nice": false, "zero": false}, "axis": null},
            "y": {"field": "y", "type": "quantitative", "scale": {"domain": [0, 400], "nice": false, "zero": false}, "axis": null},
            "size": {"condition": {"test": "datum.m === 1", "value": 676}, "value": 196}
          }
        },
        {
          "transform": [{"filter": "datum.k === 'r'"}],
          "mark": {"type": "point", "shape": "M0,0L-1,0", "filled": false, "stroke": "#000", "strokeWidth": 2.6, "opacity": 1},
          "encoding": {
            "x": {"field": "x", "type": "quantitative", "scale": {"domain": [0, 30], "nice": false, "zero": false}, "axis": null},
            "y": {"field": "y", "type": "quantitative", "scale": {"domain": [0, 400], "nice": false, "zero": false}, "axis": null},
            "size": {"condition": {"test": "datum.m === 1", "value": 676}, "value": 196}
          }
        },
        {
          "transform": [{"filter": "datum.k === 'pt'"}],
          "mark": {"type": "point", "filled": false, "strokeWidth": 2.3, "size": 100, "opacity": 1},
          "encoding": {
            "x": {
              "field": "x", "type": "quantitative",
              "scale": {"domain": [0, 30], "nice": false, "zero": false},
              "axis": {
                "orient": "bottom",
                "title": "Wall Superheat, ΔT (K)",
                "values": [0, 5, 10, 15, 20, 25, 30],
                "labelPadding": 4,
                "titlePadding": 6
              }
            },
            "y": {
              "field": "y", "type": "quantitative",
              "scale": {"domain": [0, 400], "nice": false, "zero": false},
              "axis": {
                "orient": "left",
                "title": "Heat Flux, q (kW/m²)",
                "values": [0, 100, 200, 300, 400],
                "labelPadding": 6,
                "titlePadding": 10
              }
            },
            "color": {
              "field": "s", "type": "nominal",
              "scale": {
                "domain": ["Polished 0.038 μm", "EDM 1.08 μm", "EDM 2.22 μm", "EDM 5.89 μm", "EDM 10.0 μm"],
                "range": ["#1fa21f", "#1c1cb0", "#ff8a1e", "#dc2222", "#111111"]
              },
              "legend": {"orient": "none", "legendX": 276, "legendY": 337, "title": null, "symbolOffset": 20, "labelOffset": 38}
            },
            "shape": {
              "field": "s", "type": "nominal",
              "scale": {
                "domain": ["Polished 0.038 μm", "EDM 1.08 μm", "EDM 2.22 μm", "EDM 5.89 μm", "EDM 10.0 μm"],
                "range": ["circle", "diamond", "triangle-down", "square", "triangle-up"]
              },
              "legend": {"orient": "none", "legendX": 276, "legendY": 337, "title": null, "symbolOffset": 20, "labelOffset": 38}
            }
          }
        },
        {
          "transform": [{"filter": "datum.k === 'pt'"}],
          "mark": {"type": "point", "opacity": 0},
          "encoding": {
            "x": {
              "field": "x", "type": "quantitative",
              "scale": {"domain": [0, 30], "nice": false, "zero": false},
              "axis": {
                "orient": "top",
                "title": "(a)",
                "titleFont": "Liberation Serif",
                "titleFontStyle": "italic",
                "titleFontWeight": "normal",
                "titleFontSize": 17,
                "titleAngle": 0,
                "titleAlign": "left",
                "titleBaseline": "middle",
                "titleX": -74,
                "titleY": 510,
                "values": [0, 30],
                "labels": false
              }
            },
            "y": {"field": "y", "type": "quantitative", "scale": {"domain": [0, 400], "nice": false, "zero": false}, "axis": null}
          }
        }
      ],
      "resolve": {"axis": {"x": "independent", "y": "independent"}}
    }
  ]
}
